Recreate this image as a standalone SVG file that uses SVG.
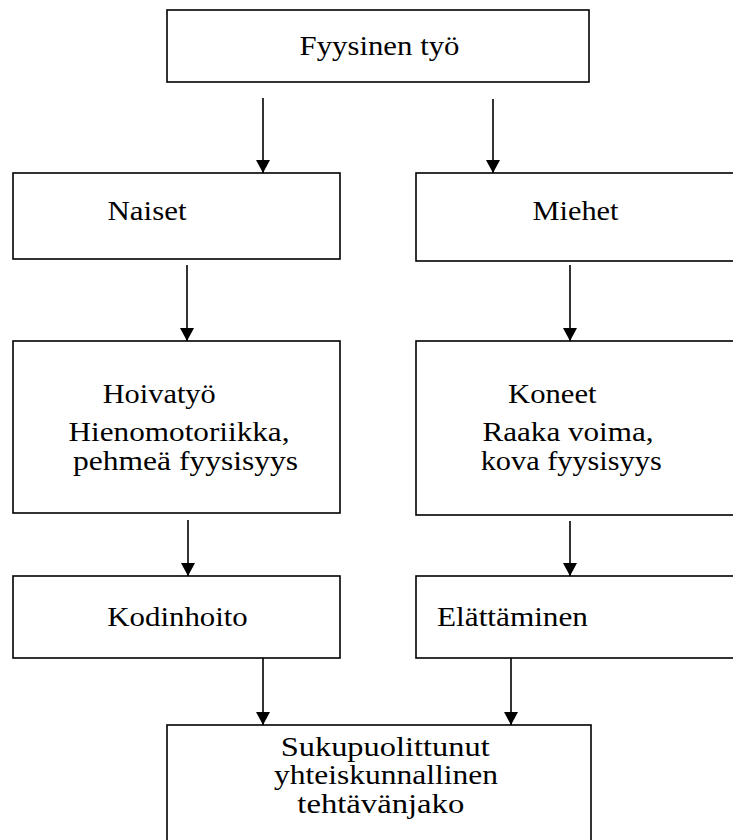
<svg xmlns="http://www.w3.org/2000/svg" width="733" height="840" viewBox="0 0 733 840">
<style>
.box{fill:#fff;stroke:#000;stroke-width:1.6}
.t{font-family:'Liberation Serif','Times New Roman','DejaVu Serif',serif;font-size:28px;fill:#000}
.c{stroke:#000;stroke-width:1.6;fill:none}
</style>
<defs>
<marker id="ah" markerUnits="userSpaceOnUse" markerWidth="15" markerHeight="14" refX="14" refY="7.5" orient="auto" viewBox="0 0 14 15">
<path d="M0,0 L14,7.5 L0,15 z" fill="#000"/>
</marker>
</defs>
<rect width="733" height="840" fill="#fff"/>
<g id="connectors">
<line class="c" x1="263" y1="98" x2="263" y2="173" marker-end="url(#ah)"/>
<line class="c" x1="493" y1="99" x2="493" y2="173" marker-end="url(#ah)"/>
<line class="c" x1="187" y1="265" x2="187" y2="341" marker-end="url(#ah)"/>
<line class="c" x1="570" y1="265" x2="570" y2="341" marker-end="url(#ah)"/>
<line class="c" x1="188" y1="520" x2="188" y2="576" marker-end="url(#ah)"/>
<line class="c" x1="570" y1="521" x2="570" y2="576" marker-end="url(#ah)"/>
<line class="c" x1="263" y1="658" x2="263" y2="725" marker-end="url(#ah)"/>
<line class="c" x1="511" y1="658" x2="511" y2="725" marker-end="url(#ah)"/>
</g>
<g id="fyysinen">
<rect class="box" x="167" y="10" width="422" height="72"/>
<text class="t" x="299.5" y="55" textLength="160" lengthAdjust="spacingAndGlyphs">Fyysinen työ</text>
</g>
<g id="naiset">
<rect class="box" x="13" y="173" width="327" height="86"/>
<text class="t" x="107.5" y="220" textLength="79" lengthAdjust="spacingAndGlyphs">Naiset</text>
</g>
<g id="miehet">
<rect class="box" x="416" y="173" width="330" height="88"/>
<text class="t" x="532.5" y="220" textLength="86" lengthAdjust="spacingAndGlyphs">Miehet</text>
</g>
<g id="hoivatyo">
<rect class="box" x="13" y="341" width="327" height="172"/>
<text class="t" x="102.7" y="403" textLength="113" lengthAdjust="spacingAndGlyphs">Hoivatyö</text>
<text class="t"><tspan x="68.5" y="441" textLength="221" lengthAdjust="spacingAndGlyphs">Hienomotoriikka,</tspan><tspan x="73" y="470" textLength="225" lengthAdjust="spacingAndGlyphs">pehmeä fyysisyys</tspan></text>
</g>
<g id="koneet">
<rect class="box" x="416" y="341" width="330" height="174"/>
<text class="t" x="508" y="403" textLength="88.5" lengthAdjust="spacingAndGlyphs">Koneet</text>
<text class="t"><tspan x="482.5" y="441" textLength="171" lengthAdjust="spacingAndGlyphs">Raaka voima,</tspan><tspan x="480.7" y="470" textLength="181" lengthAdjust="spacingAndGlyphs">kova fyysisyys</tspan></text>
</g>
<g id="kodinhoito">
<rect class="box" x="13" y="576" width="327" height="82"/>
<text class="t" x="107.3" y="626" textLength="140.5" lengthAdjust="spacingAndGlyphs">Kodinhoito</text>
</g>
<g id="elattaminen">
<rect class="box" x="416" y="576" width="330" height="82"/>
<text class="t" x="437" y="626" textLength="151" lengthAdjust="spacingAndGlyphs">Elättäminen</text>
</g>
<g id="tehtavanjako">
<rect class="box" x="167" y="725" width="424" height="130"/>
<text class="t"><tspan x="280.7" y="755.5" textLength="209" lengthAdjust="spacingAndGlyphs">Sukupuolittunut</tspan><tspan x="274" y="784" textLength="224" lengthAdjust="spacingAndGlyphs">yhteiskunnallinen</tspan><tspan x="297.3" y="812.5" textLength="167" lengthAdjust="spacingAndGlyphs">tehtävänjako</tspan></text>
</g>
</svg>
